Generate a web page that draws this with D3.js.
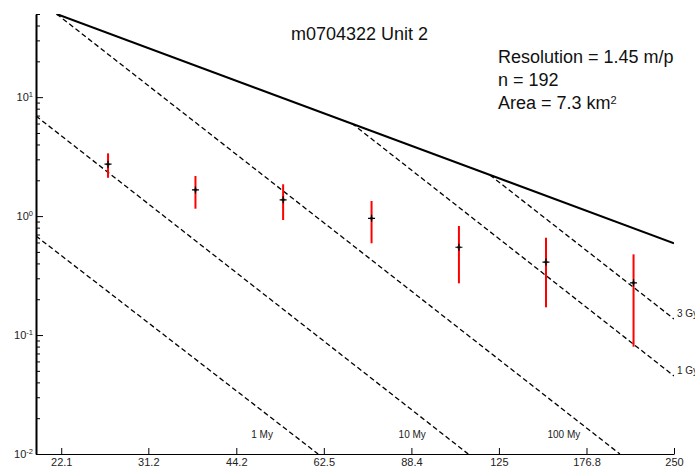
<!DOCTYPE html>
<html>
<head>
<meta charset="utf-8">
<script src="https://cdn.jsdelivr.net/npm/d3@7"></script>
<style>
  body { margin: 0; background: #fff; }
  svg { display: block; font-family: "Liberation Sans", Arial, sans-serif; }
</style>
</head>
<body>
<div id="chart"></div>
<script>
// crater size-frequency data (diameter in m, density per km^2)
const diameters = [26.6, 37.6, 53.2, 75.5, 106.7, 150.6, 213];
const density   = [2.73, 1.66, 1.37, 0.958, 0.547, 0.411, 0.275];
const errLow    = [2.10, 1.154, 0.927, 0.591, 0.272, 0.171, 0.0798];
const errHigh   = [3.37, 2.173, 1.851, 1.340, 0.826, 0.658, 0.477];

// isochrons, endpoints
const isoNames = ["1 My", "10 My", "100 My", "1 Gy", "3 Gy"];
const isoStart = [[20, 0.68], [20, 6.94], [21.7, 50], [69.8, 6.03], [120.6, 2.216]];
const isoEnd   = [[61.1, 0.01], [110.7, 0.01], [201.8, 0.01], [250, 0.0453], [250, 0.1365]];
const saturation = [[21.7, 50], [250, 0.59]];

const xTicks = [22.1, 31.2, 44.2, 62.5, 88.4, 125, 176.8, 250];
const yMajor = [0.01, 0.1, 1, 10];
const yExponents = ["-2", "-1", "0", "1"];
const yMinor = [0.02, 0.03, 0.04, 0.05, 0.06, 0.07, 0.08, 0.09,
                0.2, 0.3, 0.4, 0.5, 0.6, 0.7, 0.8, 0.9,
                2, 3, 4, 5, 6, 7, 8, 9, 20, 30, 40, 50];

const title = "m0704322 Unit 2";
const infoLines = ["Resolution = 1.45 m/p", "n = 192", "Area = 7.3 km"];

var W = 695, H = 468;
var pLeft = 36, pRight = 674, pTop = 14, pBottom = 454;

var svg = d3.select("#chart").append("svg")
    .attr("width", W)
    .attr("height", H);

var x = d3.scaleLog().domain([20, 250]).range([pLeft, pRight]);
var y = d3.scaleLog().domain([0.01, 50]).range([pBottom, pTop]);

svg.append("defs").append("clipPath").attr("id", "plotClip")
    .append("rect")
    .attr("x", pLeft).attr("y", pTop)
    .attr("width", pRight - pLeft).attr("height", pBottom - pTop);

var plot = svg.append("g").attr("clip-path", "url(#plotClip)");

// saturation line
var line = d3.line()
    .x(function(d) { return x(d[0]); })
    .y(function(d) { return y(d[1]); });

plot.append("path")
    .attr("d", line(saturation))
    .style("fill", "none")
    .style("stroke", "#000")
    .style("stroke-width", 2);

// isochrons
plot.selectAll(".iso")
    .data(isoNames)
    .enter().append("path")
    .attr("class", "iso")
    .attr("d", function(d, i) { return line([isoStart[i], isoEnd[i]]); })
    .style("fill", "none")
    .style("stroke", "#000")
    .style("stroke-width", 1.3)
    .style("stroke-dasharray", "5,3");

svg.selectAll(".isoLabel")
    .data(isoNames)
    .enter().append("text")
    .attr("class", "isoLabel")
    .attr("x", function(d, i) {
        var e = isoEnd[i];
        return e[1] <= 0.01 ? x(e[0]) - 56 : x(e[0]) + 3;
    })
    .attr("y", function(d, i) {
        var e = isoEnd[i];
        return e[1] <= 0.01 ? pBottom - 16 : y(e[1]) - 2;
    })
    .attr("text-anchor", function(d, i) { return isoEnd[i][1] <= 0.01 ? "middle" : "start"; })
    .style("font-size", "10px")
    .style("fill", "#222")
    .text(function(d) { return d; });

// error bars
svg.selectAll(".errBar")
    .data(diameters)
    .enter().append("line")
    .attr("class", "errBar")
    .attr("x1", function(d) { return x(d); })
    .attr("x2", function(d) { return x(d); })
    .attr("y1", function(d, i) { return y(errHigh[i]); })
    .attr("y2", function(d, i) { return y(errLow[i]); })
    .style("stroke", "#ff0000")
    .style("stroke-width", 2);

// point markers
var pts = svg.selectAll(".pt")
    .data(diameters)
    .enter().append("g")
    .attr("class", "pt")
    .attr("transform", function(d, i) { return "translate(" + x(d) + "," + y(density[i]) + ")"; });

pts.append("circle")
    .attr("r", 1.8)
    .style("fill", "#555");

pts.append("path")
    .attr("d", "M-3.5,0H3.5M0,-3.5V3.5")
    .style("stroke", "#000")
    .style("stroke-width", 1.2);

// axes
var xAxis = svg.append("g")
    .attr("transform", "translate(0," + pBottom + ")")
    .call(d3.axisBottom(x)
        .tickValues(xTicks)
        .tickFormat(function(d) { return String(d); })
        .tickSizeInner(-6)
        .tickSizeOuter(0)
        .tickPadding(4));

xAxis.select(".domain").style("stroke-width", 1.2);
xAxis.selectAll("text").style("font-size", "11px").style("fill", "#222");

var yMinorAxis = svg.append("g")
    .attr("transform", "translate(" + pLeft + ",0)")
    .call(d3.axisRight(y)
        .tickValues(yMinor)
        .tickFormat("")
        .tickSizeInner(4)
        .tickSizeOuter(0));
yMinorAxis.select(".domain").remove();

var yAxis = svg.append("g")
    .attr("transform", "translate(" + pLeft + ",0)")
    .call(d3.axisLeft(y)
        .tickValues(yMajor)
        .tickFormat("")
        .tickSizeInner(-7)
        .tickSizeOuter(0)
        .tickPadding(3));

yAxis.select(".domain").style("stroke-width", 2);

yAxis.selectAll(".tick text")
    .attr("dy", "0.3em")
    .style("font-size", "11px")
    .style("fill", "#222")
    .each(function(d, i) {
        var t = d3.select(this);
        t.append("tspan").text("10");
        t.append("tspan")
            .attr("dy", "-0.5em")
            .style("font-size", "7.5px")
            .text(yExponents[i]);
    });

// title and info
svg.append("text")
    .attr("x", 291)
    .attr("y", 40)
    .style("font-size", "18px")
    .style("fill", "#111")
    .text(title);

var info = svg.append("g");
infoLines.forEach(function(s, i) {
    var t = info.append("text")
        .attr("x", 498)
        .attr("y", 63 + i * 23)
        .style("font-size", "18px")
        .style("fill", "#111")
        .text(s);
    if (i === infoLines.length - 1) {
        t.append("tspan")
            .attr("dy", "-0.45em")
            .style("font-size", "11px")
            .text("2");
    }
});
</script>
</body>
</html>
